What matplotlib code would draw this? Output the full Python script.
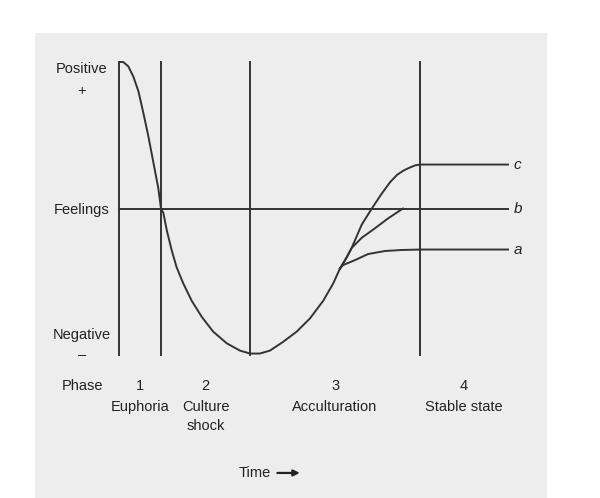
import matplotlib.pyplot as plt

# main curve (time units, feelings -1..+1)
main_t = [0, 0.11, 0.24, 0.37, 0.50, 0.62, 0.75, 0.88, 1.01, 1.08, 1.14, 1.23, 1.35, 1.48,
          1.65, 1.87, 2.13, 2.42, 2.77, 3.11, 3.37, 3.62, 3.88, 4.22, 4.57, 4.91, 5.25,
          5.51, 5.68]
main_f = [1.0, 1.0, 0.97, 0.90, 0.80, 0.66, 0.50, 0.32, 0.14, 0.0, -0.03, -0.15, -0.28,
          -0.40, -0.51, -0.63, -0.74, -0.84, -0.92, -0.97, -0.99, -0.99, -0.97, -0.91,
          -0.84, -0.75, -0.63, -0.51, -0.41]

# outcome branches after the split
c_t = [5.68, 5.84, 5.98, 6.24, 6.50, 6.75, 6.97, 7.15, 7.32, 7.48, 7.62, 7.74, 10]
c_f = [-0.41, -0.34, -0.27, -0.11, 0.0, 0.10, 0.18, 0.23, 0.26, 0.28, 0.295, 0.30, 0.30]
b_t = [5.68, 5.84, 5.98, 6.24, 6.58, 6.92, 7.30]
b_f = [-0.41, -0.34, -0.27, -0.20, -0.135, -0.067, 0.0]
a_t = [5.68, 5.76, 6.07, 6.40, 6.84, 7.28, 7.74, 10]
a_f = [-0.41, -0.386, -0.352, -0.311, -0.29, -0.283, -0.28, -0.28]

branch_labels = ['c', 'b', 'a']
phase_bounds = [0, 1.08, 3.37, 7.74, 10]
phase_nums = ['1', '2', '3', '4']
phase_names = ['Euphoria', 'Culture\nshock', 'Acculturation', 'Stable state']

plt.rcParams['font.family'] = ['Liberation Sans', 'DejaVu Sans']
ink = '#333333'
txt = '#222222'

fig = plt.figure(figsize=(6, 4.98), dpi=100)
ax = fig.add_axes([35 / 600, 0, 512 / 600, 465 / 498])
ax.set_facecolor('#ededed')
ax.set_xlim(-2.159, 11.003)
ax.set_ylim(-1.976, 1.198)
for s in ax.spines.values():
    s.set_visible(False)
ax.set_xticks([])
ax.set_yticks([])

lw = 1.4
# phase boundaries and feelings baseline
for x in phase_bounds[:-1]:
    ax.plot([x, x], [1.0, -1.0], color=ink, lw=lw)
ax.plot([0, 10], [0, 0], color=ink, lw=lw)

ax.plot(main_t, main_f, color=ink, lw=lw)
for tt, ff in [(c_t, c_f), (b_t, b_f), (a_t, a_f)]:
    ax.plot(tt, ff, color=ink, lw=lw)

for lab, ff in zip(branch_labels, [c_f[-1], b_f[-1], a_f[-1]]):
    ax.text(10.25, ff, lab, style='italic', fontsize=11, color=txt,
            ha='center', va='center')

fs = 10.5
lx = -0.95
ax.text(lx, 0.952, 'Positive', fontsize=fs, color=txt, ha='center', va='center')
ax.text(lx, 0.80, '+', fontsize=fs, color=txt, ha='center', va='center')
ax.text(lx, -0.01, 'Feelings', fontsize=fs, color=txt, ha='center', va='center')
ax.text(lx, -0.863, 'Negative', fontsize=fs, color=txt, ha='center', va='center')
ax.text(lx, -1.0, '–', fontsize=fs, color=txt, ha='center', va='center')
ax.text(lx, -1.212, 'Phase', fontsize=fs, color=txt, ha='center', va='center')

for i in range(4):
    mid = (phase_bounds[i] + phase_bounds[i + 1]) / 2
    ax.text(mid, -1.212, phase_nums[i], fontsize=fs, color=txt, ha='center', va='center')
    ax.text(mid, -1.31, phase_names[i], fontsize=fs, color=txt, ha='center', va='top',
            linespacing=1.45)

ax.text(3.5, -1.805, 'Time', fontsize=fs, color=txt, ha='center', va='center')
ax.annotate('', xy=(4.72, -1.805), xytext=(4.0, -1.805),
            arrowprops=dict(arrowstyle='-|>', color=txt, lw=1.6, mutation_scale=9))

fig.savefig('out.png', dpi=100, facecolor='white')
